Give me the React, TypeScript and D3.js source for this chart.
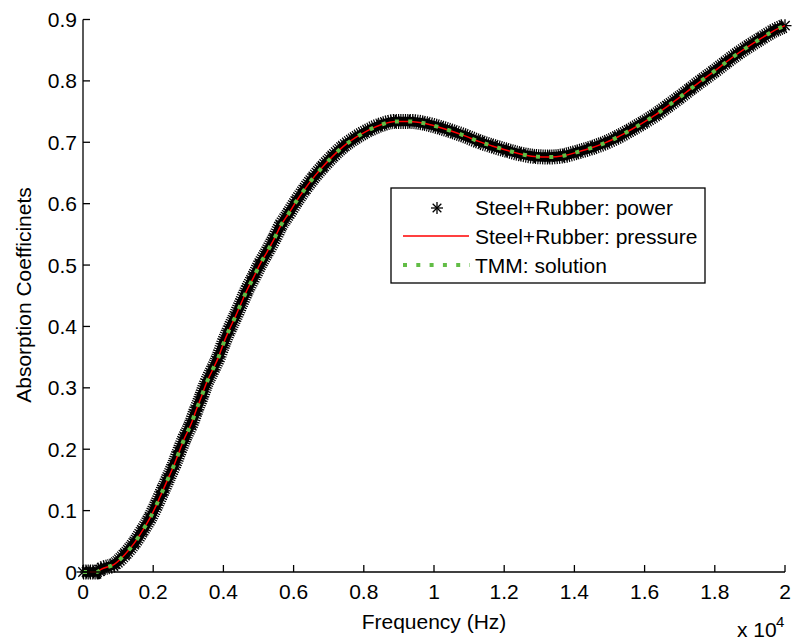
import React from "react";
import * as d3 from "d3";

// Frequency (Hz) samples
const frequencies = [0, 100, 200, 300, 400, 500, 900, 1200, 1460, 1690, 1910, 2090, 2260, 2430, 2600, 2740, 2900, 3080, 3220, 3370, 3510, 3690, 3860, 4000, 4160, 4340, 4500, 4670, 4860, 5040, 5250, 5450, 5630, 5860, 6080, 6310, 6560, 6830, 7110, 7410, 7750, 8110, 8510, 8900, 9300, 9720, 10120, 10510, 10900, 11290, 11660, 12070, 12460, 12860, 13280, 13680, 14080, 14490, 14870, 15250, 15600, 15960, 16320, 16660, 16970, 17310, 17660, 17970, 18310, 18640, 18980, 19340, 19690, 20000];
// Absorption coefficients (power method)
const powerAbs = [0, 0, 0, 0, 0, 0.004, 0.013, 0.029, 0.047, 0.067, 0.088, 0.109, 0.131, 0.153, 0.175, 0.196, 0.219, 0.241, 0.263, 0.285, 0.307, 0.329, 0.350, 0.372, 0.394, 0.416, 0.437, 0.459, 0.480, 0.501, 0.522, 0.543, 0.564, 0.584, 0.604, 0.623, 0.642, 0.660, 0.677, 0.693, 0.707, 0.719, 0.729, 0.734, 0.734, 0.731, 0.725, 0.718, 0.710, 0.701, 0.694, 0.687, 0.681, 0.677, 0.676, 0.678, 0.684, 0.691, 0.699, 0.709, 0.720, 0.732, 0.745, 0.759, 0.772, 0.787, 0.802, 0.815, 0.830, 0.844, 0.857, 0.870, 0.882, 0.890];
// Pressure method and TMM coincide with the power method on the chart
const pressureAbs = powerAbs.slice();
const tmmAbs = powerAbs.slice();

const xTicks = [0, 2000, 4000, 6000, 8000, 10000, 12000, 14000, 16000, 18000, 20000];
const xTickLabels = ["0", "0.2", "0.4", "0.6", "0.8", "1", "1.2", "1.4", "1.6", "1.8", "2"];
const yTicks = [0, 0.1, 0.2, 0.3, 0.4, 0.5, 0.6, 0.7, 0.8, 0.9];
const yTickLabels = ["0", "0.1", "0.2", "0.3", "0.4", "0.5", "0.6", "0.7", "0.8", "0.9"];
const legendLabels = ["Steel+Rubber: power", "Steel+Rubber: pressure", "TMM: solution"];

const FONT = "'Liberation Sans', Arial, Helvetica, sans-serif";
const FS = 21;
const GREEN = "#62bd46";

function Star({ x, y, r }: { x: number; y: number; r: number }) {
  const d = r * 0.72;
  return (
    <g stroke="#000" strokeWidth={1.3}>
      <line x1={x} y1={y - r} x2={x} y2={y + r} />
      <line x1={x - r} y1={y} x2={x + r} y2={y} />
      <line x1={x - d} y1={y - d} x2={x + d} y2={y + d} />
      <line x1={x - d} y1={y + d} x2={x + d} y2={y - d} />
    </g>
  );
}

export default function App() {
  const x = d3.scaleLinear().domain([0, 20000]).range([83, 785]);
  const y = d3.scaleLinear().domain([0, 0.9]).range([572, 19.5]);

  const mk = (vals: number[]) =>
    d3
      .line<number>()
      .x((_, i) => x(frequencies[i]))
      .y((v) => y(v))
      .curve(d3.curveMonotoneX)(vals) || "";

  const pPath = mk(powerAbs);
  const prPath = mk(pressureAbs);
  const tPath = mk(tmmAbs);

  const lg = { x0: 391, y0: 188, x1: 705, y1: 283 };

  return (
    <svg
      width={792}
      height={640}
      style={{ position: "absolute", left: 0, top: 0, background: "#fff" }}
      fontFamily={FONT}
      fontSize={FS}
    >
      <rect x={0} y={0} width={792} height={640} fill="#fff" />
      {/* power series: dense star band */}
      <path d={pPath} fill="none" stroke="#000" strokeWidth={9.5} strokeLinejoin="round" />
      <path d={pPath} fill="none" stroke="#000" strokeWidth={15} strokeDasharray="1.2 1.1" />
      {frequencies.map((f, i) => (
        <Star key={i} x={x(f)} y={y(powerAbs[i])} r={6.5} />
      ))}
      {/* pressure series */}
      <path d={prPath} fill="none" stroke="#ff0000" strokeWidth={1.5} />
      {/* TMM series */}
      <path d={tPath} fill="none" stroke={GREEN} strokeWidth={4} strokeDasharray="4 9.3" />

      {/* axes */}
      <line x1={83} y1={572} x2={785} y2={572} stroke="#000" strokeWidth={1.3} />
      <line x1={83} y1={19.5} x2={83} y2={572} stroke="#000" strokeWidth={1.3} />
      {xTicks.map((t, i) => (
        <g key={"xt" + i}>
          <line x1={x(t)} x2={x(t)} y1={572} y2={565} stroke="#000" strokeWidth={1.3} />
          <text x={x(t)} y={599} textAnchor="middle">
            {xTickLabels[i]}
          </text>
        </g>
      ))}
      {yTicks.map((t, i) => (
        <g key={"yt" + i}>
          <line x1={83} x2={90} y1={y(t)} y2={y(t)} stroke="#000" strokeWidth={1.3} />
          <text x={77} y={y(t) + 7.5} textAnchor="end">
            {yTickLabels[i]}
          </text>
        </g>
      ))}
      <text x={434} y={629} textAnchor="middle">
        Frequency (Hz)
      </text>
      <text transform="translate(31,295) rotate(-90)" textAnchor="middle">
        Absorption Coefficinets
      </text>
      <text x={737} y={637}>
        x 10
      </text>
      <text x={776} y={627} fontSize={15}>
        4
      </text>

      {/* legend */}
      <rect x={lg.x0} y={lg.y0} width={lg.x1 - lg.x0} height={lg.y1 - lg.y0} fill="#fff" stroke="#000" strokeWidth={1.3} />
      <Star x={437} y={208} r={6} />
      <line x1={403} x2={469} y1={236} y2={236} stroke="#ff0000" strokeWidth={1.5} />
      <line x1={403} x2={470} y1={265} y2={265} stroke={GREEN} strokeWidth={4} strokeDasharray="4 9.3" />
      {legendLabels.map((l, i) => (
        <text key={l} x={475} y={215 + i * 29}>
          {l}
        </text>
      ))}
    </svg>
  );
}
